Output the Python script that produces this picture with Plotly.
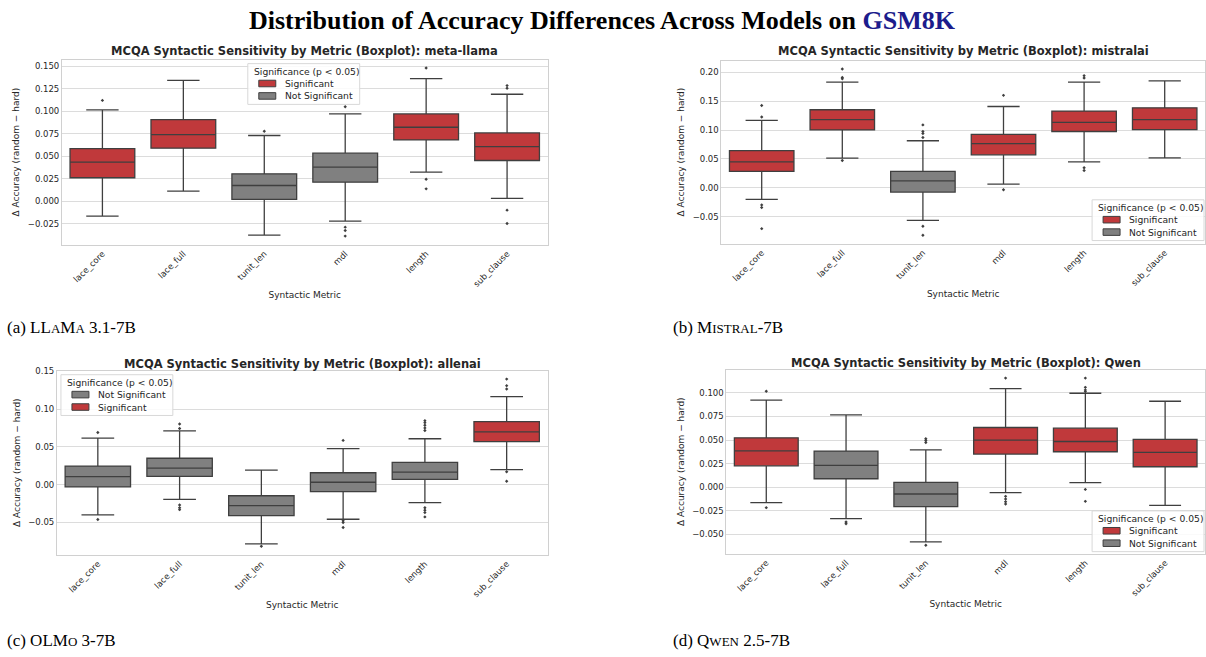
import plotly.graph_objects as go

W, H = 1206, 657

categories = ["lace_core", "lace_full", "tunit_len", "mdl", "length", "sub_clause"]

# ---------------- meta-llama (a) ----------------
llama_q1 = [0.0260, 0.0589, 0.0019, 0.0211, 0.0681, 0.0452]
llama_med = [0.0433, 0.0740, 0.0174, 0.0378, 0.0822, 0.0607]
llama_q3 = [0.0585, 0.0907, 0.0304, 0.0533, 0.0970, 0.0759]
llama_lo = [-0.0167, 0.0111, -0.0378, -0.0222, 0.0322, 0.0030]
llama_hi = [0.1015, 0.1344, 0.0730, 0.0970, 0.1363, 0.1189]
llama_sig = [True, True, False, False, True, True]
llama_out = [[0.112], [], [0.0778], [0.105, -0.0289, -0.0326, -0.0389],
             [0.148, 0.0244, 0.0137], [0.1285, 0.1256, -0.0100, -0.0248]]

# ---------------- mistralai (b) ----------------
mistral_q1 = [0.0285, 0.1002, -0.0074, 0.0570, 0.0974, 0.1008]
mistral_med = [0.0450, 0.1179, 0.0120, 0.0763, 0.1133, 0.1179]
mistral_q3 = [0.0644, 0.1350, 0.0285, 0.0923, 0.1327, 0.1384]
mistral_lo = [-0.0200, 0.0513, -0.0564, 0.0063, 0.0450, 0.0518]
mistral_hi = [0.1167, 0.1828, 0.0814, 0.1407, 0.1828, 0.1850]
mistral_sig = [True, True, False, True, True, True]
mistral_out = [[0.1424, 0.1224, -0.0296, -0.0340, -0.0706],
               [0.2056, 0.1908, 0.1885, 0.0473],
               [0.1088, 0.0974, 0.0940, 0.0870, -0.0666, -0.0820],
               [0.1600, -0.0034],
               [0.1940, 0.1900, 0.0347, 0.0300],
               []]

# ---------------- allenai (c) ----------------
olmo_q1 = [-0.0031, 0.0109, -0.0410, -0.0092, 0.0070, 0.0568]
olmo_med = [0.0105, 0.0218, -0.0280, 0.0031, 0.0166, 0.0699]
olmo_q3 = [0.0245, 0.0349, -0.0148, 0.0157, 0.0293, 0.0834]
olmo_lo = [-0.0402, -0.0197, -0.0786, -0.0459, -0.0240, 0.0197]
olmo_hi = [0.0616, 0.0712, 0.0192, 0.0476, 0.0607, 0.1166]
olmo_sig = [False, False, False, False, False, True]
olmo_out = [[0.0690, -0.0463],
            [0.0803, 0.0742, -0.0271, -0.0306, -0.0332],
            [-0.0817],
            [0.0585, -0.0480, -0.0502, -0.0568],
            [0.0847, 0.0820, 0.0786, 0.0751, 0.0716, -0.0306, -0.0340, -0.0371, -0.0428],
            [0.1397, 0.1310, 0.1266, 0.0170, 0.0044]]

# ---------------- Qwen (d) ----------------
qwen_q1 = [0.0226, 0.0088, -0.0209, 0.0350, 0.0375, 0.0216]
qwen_med = [0.0385, 0.0230, -0.0074, 0.0499, 0.0484, 0.0368]
qwen_q3 = [0.0523, 0.0382, 0.0050, 0.0633, 0.0626, 0.0506]
qwen_lo = [-0.0166, -0.0336, -0.0583, -0.0060, 0.0046, -0.0194]
qwen_hi = [0.0923, 0.0767, 0.0396, 0.1047, 0.0997, 0.0912]
qwen_sig = [True, False, False, True, True, True]
qwen_out = [[0.1018, -0.0219],
            [-0.0371, -0.0390],
            [0.0513, 0.0495, 0.0474, -0.0619],
            [0.1158, -0.0099, -0.0127, -0.0156, -0.0180],
            [0.1158, 0.1060, 0.1033, 0.1015, -0.0025, -0.0152],
            []]

RED = "#c0393b"
GRAY = "#808080"
EDGE = "#3f3f3f"
FONT = "DejaVu Sans"
TXT = "#262626"

panels = [
    dict(name="meta-llama", q1=llama_q1, med=llama_med, q3=llama_q3, lo=llama_lo, hi=llama_hi,
         sig=llama_sig, out=llama_out, px=(62, 548), py=(56, 242), dtick=0.025, fmt=".3f",
         title_y=47, leg=(248, 60), leg_order=[True, False]),
    dict(name="mistralai", q1=mistral_q1, med=mistral_med, q3=mistral_q3, lo=mistral_lo, hi=mistral_hi,
         sig=mistral_sig, out=mistral_out, px=(722, 1206), py=(57, 241), dtick=0.05, fmt=".2f",
         title_y=47, leg=(1093, 197), leg_order=[True, False]),
    dict(name="allenai", q1=olmo_q1, med=olmo_med, q3=olmo_q3, lo=olmo_lo, hi=olmo_hi,
         sig=olmo_sig, out=olmo_out, px=(57, 548), py=(369, 554), dtick=0.05, fmt=".2f",
         title_y=362, leg=(61, 373), leg_order=[False, True]),
    dict(name="Qwen", q1=qwen_q1, med=qwen_med, q3=qwen_q3, lo=qwen_lo, hi=qwen_hi,
         sig=qwen_sig, out=qwen_out, px=(727, 1206), py=(368, 553), dtick=0.025, fmt=".3f",
         title_y=361, leg=(1093, 510), leg_order=[True, False]),
]

captions = [
    ("(a) LL<span style='font-size:13px'>A</span>M<span style='font-size:13px'>A</span> 3.1-7B", 5, 325),
    ("(b) M<span style='font-size:13px'>ISTRAL</span>-7B", 672, 325),
    ("(c) OLM<span style='font-size:13px'>O</span> 3-7B", 5, 640),
    ("(d) Q<span style='font-size:13px'>WEN</span> 2.5-7B", 672, 640),
]


def xp(px):
    return px / W


def yp(py):
    return 1 - py / H


fig = go.Figure()
shapes = []
annotations = []

for i, p in enumerate(panels):
    n = i + 1
    xa = "x" if n == 1 else f"x{n}"
    ya = "y" if n == 1 else f"y{n}"
    for j, cat in enumerate(categories):
        col = RED if p["sig"][j] else GRAY
        fig.add_trace(go.Box(
            x=[cat], q1=[p["q1"][j]], median=[p["med"][j]], q3=[p["q3"][j]],
            lowerfence=[p["lo"][j]], upperfence=[p["hi"][j]],
            fillcolor=col, line=dict(color=EDGE, width=1.3),
            whiskerwidth=0.5, width=0.8, boxpoints=False,
            xaxis=xa, yaxis=ya, showlegend=False, hoverinfo="skip"))
        if p["out"][j]:
            fig.add_trace(go.Scatter(
                x=[cat] * len(p["out"][j]), y=p["out"][j], mode="markers",
                marker=dict(size=2.6, color=EDGE, symbol="diamond"),
                xaxis=xa, yaxis=ya, showlegend=False, hoverinfo="skip"))

    allv = p["lo"] + p["hi"] + [v for o in p["out"] for v in o]
    vmin, vmax = min(allv), max(allv)
    pad = 0.05 * (vmax - vmin)
    yr = [vmin - pad, vmax + pad]

    xkey = "xaxis" if n == 1 else f"xaxis{n}"
    ykey = "yaxis" if n == 1 else f"yaxis{n}"
    fig.update_layout(**{
        xkey: dict(domain=[xp(p["px"][0]), xp(p["px"][1])], anchor=ya,
                   type="category", categoryorder="array", categoryarray=categories,
                   range=[-0.5, 5.5], tickangle=-45, showgrid=False, zeroline=False,
                   showline=True, mirror=True, linecolor="#d0d0d0", linewidth=1,
                   ticks="", tickfont=dict(family=FONT, size=8.5, color=TXT),
                   title=dict(text="Syntactic Metric", font=dict(family=FONT, size=9, color=TXT),
                              standoff=3)),
        ykey: dict(domain=[yp(p["py"][1]), yp(p["py"][0])], anchor=xa,
                   range=yr, dtick=p["dtick"], tick0=0, tickformat=p["fmt"],
                   showgrid=True, gridcolor="#dcdcdc", gridwidth=1, zeroline=False,
                   showline=True, mirror=True, linecolor="#d0d0d0", linewidth=1,
                   ticks="", tickfont=dict(family=FONT, size=8.5, color=TXT),
                   title=dict(text="Δ Accuracy (random − hard)",
                              font=dict(family=FONT, size=9, color=TXT), standoff=6)),
    })

    # subplot title
    annotations.append(dict(
        text=f"<b>MCQA Syntactic Sensitivity by Metric (Boxplot): {p['name']}</b>",
        x=xp((p["px"][0] + min(p["px"][1], 1208)) / 2), y=yp(p["title_y"]),
        xref="paper", yref="paper", xanchor="center", yanchor="middle",
        showarrow=False, font=dict(family=FONT, size=11.5, color=TXT)))

    # legend (drawn manually)
    lx, ly = p["leg"]
    lw, lh = 112, 41
    shapes.append(dict(type="rect", xref="paper", yref="paper",
                       x0=xp(lx), x1=xp(lx + lw), y0=yp(ly + lh), y1=yp(ly),
                       line=dict(color="#d8d8d8", width=1),
                       fillcolor="rgba(255,255,255,0.85)", layer="above"))
    annotations.append(dict(text="Significance (p < 0.05)", x=xp(lx + 4), y=yp(ly + 7.5),
                            xref="paper", yref="paper", xanchor="left", yanchor="middle",
                            showarrow=False, font=dict(family=FONT, size=9.2, color=TXT)))
    for k, is_sig in enumerate(p["leg_order"]):
        cy = ly + 20 + 12.5 * k
        shapes.append(dict(type="rect", xref="paper", yref="paper",
                           x0=xp(lx + 11), x1=xp(lx + 28), y0=yp(cy + 3.3), y1=yp(cy - 3.3),
                           line=dict(color=EDGE, width=1), fillcolor=RED if is_sig else GRAY,
                           layer="above"))
        annotations.append(dict(text="Significant" if is_sig else "Not Significant",
                                x=xp(lx + 35), y=yp(cy), xref="paper", yref="paper",
                                xanchor="left", yanchor="middle", showarrow=False,
                                font=dict(family=FONT, size=9.2, color=TXT)))

# main title
annotations.append(dict(
    text="<b>Distribution of Accuracy Differences Across Models on "
         "<span style='color:#1c1c8c'>GSM8K</span></b>",
    x=0.5, y=yp(17), xref="paper", yref="paper", xanchor="center", yanchor="middle",
    showarrow=False, font=dict(family="Liberation Serif", size=26, color="black")))

for txt, cx, cy in captions:
    annotations.append(dict(text=txt, x=xp(cx), y=yp(cy), xref="paper", yref="paper",
                            xanchor="left", yanchor="middle", showarrow=False,
                            font=dict(family="Liberation Serif", size=17, color="black")))

fig.update_layout(
    width=W, height=H, margin=dict(l=0, r=0, t=0, b=0),
    paper_bgcolor="white", plot_bgcolor="white",
    boxmode="overlay", showlegend=False,
    shapes=shapes, annotations=annotations,
)

fig.write_html("out.html")
